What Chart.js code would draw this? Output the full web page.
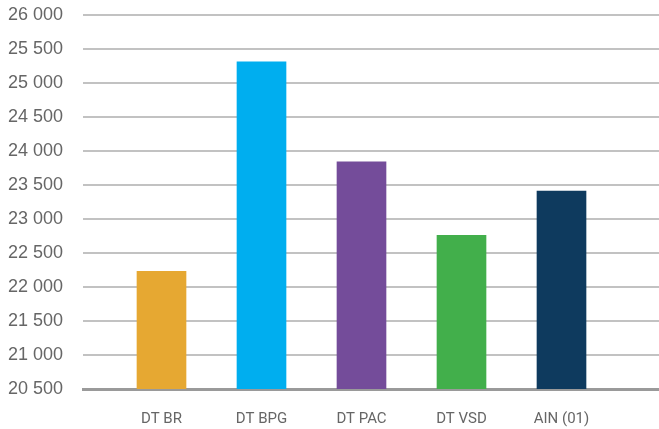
<!DOCTYPE html>
<html>
<head>
<meta charset="utf-8">
<script src="https://cdn.jsdelivr.net/npm/chart.js@4/dist/chart.umd.min.js"></script>
<style>
html,body{margin:0;padding:0;background:#fff;}
#wrap{width:659px;height:429px;position:relative;}
</style>
</head>
<body>
<div id="wrap"><canvas id="c"></canvas></div>
<script>
const categories = ['DT BR', 'DT BPG', 'DT PAC', 'DT VSD', 'AIN (01)'];
const values = [22230, 25310, 23840, 22760, 23410];
const barColors = ['#E6A832', '#00AEEF', '#744C9A', '#42AF4B', '#0E3A5E'];
const yTicks = [20500, 21000, 21500, 22000, 22500, 23000, 23500, 24000, 24500, 25000, 25500, 26000];

const fmt = v => String(v).replace(/\B(?=(\d{3})+(?!\d))/g, ' ');

new Chart(document.getElementById('c'), {
  type: 'bar',
  data: {
    datasets: [{
      data: categories.map((c, i) => ({ x: i, y: values[i] })),
      backgroundColor: barColors,
      borderWidth: 0,
      barThickness: 49
    }]
  },
  options: {
    responsive: true,
    maintainAspectRatio: false,
    animation: false,
    layout: { padding: { top: 15, right: 0, left: 0, bottom: 0 } },
    plugins: { legend: { display: false }, tooltip: { enabled: false } },
    scales: {
      x: {
        type: 'linear',
        offset: false,
        min: -0.785,
        max: 4.975,
        afterBuildTicks: s => { s.ticks = categories.map((c, i) => ({ value: i })); },
        afterFit: s => { s.height = 40; s.paddingLeft = 0; s.paddingRight = 0; },
        grid: { display: false, drawTicks: false, offset: false },
        border: { display: true, color: '#9a9a9a', width: 3 },
        ticks: {
          autoSkip: false,
          maxRotation: 0,
          padding: 21,
          color: '#666666',
          font: { family: 'Roboto, sans-serif', size: 15 },
          callback: v => categories[v] !== undefined ? categories[v] : ''
        }
      },
      y: {
        min: yTicks[0],
        max: yTicks[yTicks.length - 1],
        afterBuildTicks: s => { s.ticks = yTicks.map(v => ({ value: v })); },
        afterFit: s => { s.width = 83; s.paddingTop = 0; s.paddingBottom = 0; },
        grid: { color: '#c2c2c2', lineWidth: 2, drawTicks: false },
        border: { display: false },
        ticks: {
          padding: 20,
          color: '#666666',
          font: { family: "'Liberation Sans', Arial, sans-serif", size: 18 },
          callback: v => fmt(v)
        }
      }
    }
  }
});
</script>
</body>
</html>
